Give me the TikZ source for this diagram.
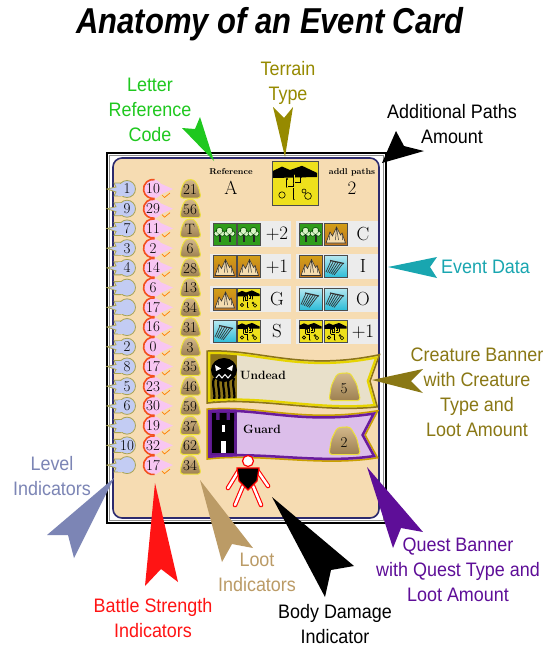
\documentclass[tikz,border=0pt]{standalone}
\usepackage{fontspec}
\newfontfamily\labfont{Liberation Sans}

\definecolor{cardbg}{HTML}{F6DCB2}
\definecolor{cardedge}{HTML}{2C2A6E}
\definecolor{levfill}{HTML}{C3CCF3}
\definecolor{levedge}{HTML}{A9A455}
\definecolor{batfill}{HTML}{F8C6F2}
\definecolor{batedge}{HTML}{F2501E}
\definecolor{rockfill}{HTML}{C4A064}
\definecolor{rockedge}{HTML}{EDE03A}
\definecolor{cellbg}{HTML}{ECECEC}
\definecolor{forestbg}{HTML}{2F9C1C}
\definecolor{treefill}{HTML}{D9F4C6}
\definecolor{mountbg}{HTML}{C07620}
\definecolor{peakfill}{HTML}{F5DDB0}
\definecolor{desertbg}{HTML}{EEE01C}
\definecolor{waterbg}{HTML}{2CBCD8}
\definecolor{banneryel}{HTML}{E6D400}
\definecolor{bannerolv}{HTML}{8C7418}
\definecolor{creaturebg}{HTML}{E8E0CA}
\definecolor{questbg}{HTML}{DCBEEA}
\definecolor{questedge}{HTML}{6A1C9C}
\definecolor{questpanel}{HTML}{5C1A8C}
\definecolor{gold}{HTML}{C9A000}
\definecolor{colref}{HTML}{1FC81F}
\definecolor{colterr}{HTML}{968A00}
\definecolor{colevent}{HTML}{19A6B0}
\definecolor{colcreat}{HTML}{8A7815}
\definecolor{colquest}{HTML}{5E0E98}
\definecolor{collevel}{HTML}{7C85B5}
\definecolor{colbattle}{HTML}{FF1414}
\definecolor{colloot}{HTML}{BB9B66}

\newcommand{\dart}[5]{\fill[#1] #2 -- #3 -- #4 -- #5 -- cycle;}

\tikzset{
	tileedge/.style={draw=black!70,line width=.7},
	forest/.pic={
		\draw[tileedge,fill=forestbg] (0,0) rectangle (23,22);
		\foreach \tx in {6.5,16.5}{
			\fill[black!85] (\tx-1,11) rectangle (\tx+1,19);
			\draw[green!30!black,line width=.6,fill=treefill] (\tx,7.5) circle (3.2) (\tx-2.8,10.5) circle (2.7) (\tx+2.8,10.5) circle (2.7);
			\fill[treefill] (\tx,8.5) circle (2.4);
		}
	},
	mountain/.pic={
		\draw[tileedge,top color=mountbg!70!yellow,bottom color=mountbg] (0,0) rectangle (23,22);
		\draw[black!80,line width=.6,fill=peakfill] (2,20) -- (6,9) -- (8.5,13) -- (12.5,4) -- (16.5,12) -- (18,10) -- (21.5,20) -- cycle;
		\draw[black!80,line width=.5] (6,9) -- (5.5,17) (12.5,4) -- (11.5,17) (12.5,4) -- (14.5,17) (18,10) -- (18.5,17);
	},
	desert/.pic={
		\draw[tileedge,fill=desertbg] (0,0) rectangle (23,22);
		\fill[black] (0.4,5) -- (5,2.8) -- (9,4.5) -- (15,2.4) -- (22.6,6) -- (22.6,8) -- (0.4,8.5) -- cycle;
		\draw[black,line width=2.4,line cap=round,line join=round] (11,19) -- (11,6) (11,13) -- (7.5,13) -- (7.5,9) (11,11) -- (14.5,11) -- (14.5,8);
		\draw[desertbg,line width=.9,line cap=round,line join=round] (11,19) -- (11,7) (11,13) -- (7.5,13) -- (7.5,9.5) (11,11) -- (14.5,11) -- (14.5,8.5);
		\draw[black,line width=.6] (5,17) circle (1.6) (18,17.5) circle (1.7) (16,15) circle (1);
	},
	water/.pic={
		\draw[tileedge,top color=waterbg!35!white,bottom color=waterbg] (0,0) rectangle (23,22);
		\draw[black!80,line width=1.2] (6,5) -- (20,8);
		\foreach \k in {0,...,5}
			\draw[black!80,line width=.7] (7+2.4*\k,5.3+0.5*\k) -- (2+1.6*\k,16.5+0.6*\k);
	},
	levgem/.pic={
		\draw[fill=levfill,draw=levedge,line width=.8] (-6,-6) -- (-13,-6) -- (-11,-2) -- (-20,0) -- (-11,3) -- (-13,7) -- (-6,7) -- cycle;
		\draw[fill=levfill,draw=levedge,line width=.8] (0,0) circle (8.5);
		\fill[levfill] (-9,-5.5) rectangle (-4,6.5);
	},
	batgem/.pic={
		\fill[batfill] (0,0) circle (9.5) (4,-7) -- (20,0) -- (4,7) -- cycle;
		\draw[batedge,line width=1.6] (80:9.5) arc[start angle=80,end angle=280,radius=9.5];
		\draw[orange,line width=.7] (9,6) -- (11.5,8.5) -- (17,4);
	},
	lootrock/.pic={
		\draw[rockedge,line width=1,top color=rockfill!75!white,bottom color=rockfill!80!black,rounded corners=3] (-10,9) -- (-8.5,-1) -- (-4.5,-9) -- (4,-9.5) -- (8.5,-2) -- (11,9) -- cycle;
	},
}

\begin{document}
\begin{tikzpicture}[x=1pt,y=-1pt,
	title/.style={font=\labfont\bfseries\itshape\fontsize{36}{36}\selectfont,xscale=.86,inner sep=0pt},
	lab/.style={font=\labfont\fontsize{19.5}{25}\selectfont,align=center,xscale=.92,inner sep=0pt},
	num/.style={font=\fontsize{15}{15}\selectfont,inner sep=0pt},
	hdr/.style={font=\bfseries\fontsize{8.5}{8.5}\selectfont,inner sep=0pt},
	big/.style={font=\fontsize{19}{19}\selectfont,inner sep=0pt},
	gridtxt/.style={font=\fontsize{19}{19}\selectfont,inner sep=0pt},
	bantxt/.style={font=\bfseries\fontsize{12}{12}\selectfont,inner sep=0pt},
	]
	\useasboundingbox (0,0) rectangle (545,648);
	\fill[white] (0,0) rectangle (545,648);

	\node[title] (title) at (270,24) {Anatomy of an Event Card};

	% card
	\draw[line width=1.4,fill=white] (107,153) rectangle (386,523);
	\draw[black!45,line width=.5] (109.5,155.5) rectangle (383.5,520.5);
	\draw[cardedge,fill=cardbg,line width=1.6,rounded corners=9] (113,158) rectangle (379,518);

	% header row
	\node[hdr] (refhdr) at (231,172) {Reference};
	\node[big] (refcode) at (231,188) {A};
	\pic[scale=2] at (272,161) {desert};
	\node[hdr] (pathhdr) at (352,172) {addl paths};
	\node[big] (pathnum) at (352,188) {2};

	% level / battle strength / loot columns
	\foreach \lv/\bs/\lt [count=\i] in {1/10/21,9/29/56,7/11/T,3/2/6,4/14/28,/6/13,/17/34,/16/31,2/0/3,8/17/35,5/23/46,6/30/59,/19/37,10/32/62,/17/34}{
		\pgfmathsetmacro\yy{189+(\i-1)*19.72}
		\pic at (127,\yy) {levgem};
		\node[num] (lv\i) at (127,\yy) {\lv};
		\pic at (153,\yy) {batgem};
		\node[num] (bs\i) at (153,\yy) {\bs};
		\pic at (190,\yy) {lootrock};
		\node[num] (lt\i) at (190,\yy+.5) {\lt};
	}

	% event data
	\foreach \ta/\tb/\la/\tc/\td/\lb [count=\r] in {forest/forest/+2/forest/mountain/C,mountain/mountain/+1/mountain/water/I,mountain/desert/G/water/water/O,water/desert/S/desert/desert/+1}{
		\pgfmathsetmacro\yy{234+(\r-1)*32.5}
		\fill[cellbg] (210,\yy-13) rectangle (291,\yy+12.5);
		\fill[cellbg] (296,\yy-13) rectangle (378,\yy+12.5);
		\pic at (213,\yy-11) {\ta};
		\pic at (237,\yy-11) {\tb};
		\node[gridtxt] (l\r) at (277,\yy) {\la};
		\pic at (299,\yy-11) {\tc};
		\pic at (324,\yy-11) {\td};
		\node[gridtxt] (r\r) at (363,\yy) {\lb};
	}

	% creature banner
	\def\creaturepath{(208,352) .. controls (260,350) and (300,372) .. (378,356) -- (369,381) -- (376,406) .. controls (320,412) and (260,396) .. (208,402) -- cycle}
	\draw[bannerolv,line width=3.5] \creaturepath;
	\fill[creaturebg] \creaturepath;
	\begin{scope}
		\clip \creaturepath;
		\fill[bannerolv] (205,345) rectangle (237,410);
		\fill[black] (224,370) ellipse [x radius=13,y radius=12];
		\foreach \dx in {-10,-5,0,5,10}
			\draw[black,line width=2.2] (224+\dx,378) .. controls (221+\dx,388) and (227+\dx,392) .. (223+\dx,404);
		\fill[white] (215,365) -- (221,368.5) -- (216,371) -- cycle;
		\fill[white] (233,365) -- (227,368.5) -- (232,371) -- cycle;
		\draw[white,line width=1] (216,378) -- (219,374.5) -- (222,378) -- (225,374.5) -- (228,378) -- (231,374.5);
		\draw[banneryel,line width=4.5] \creaturepath;
	\end{scope}
	\node[bantxt] (undead) at (263,375) {Undead};
	\pic[scale=1.5] at (344,387) {lootrock};
	\node[num] (cloot) at (344,389) {5};

	% quest banner
	\def\questpath{(208,410) .. controls (260,406) and (300,424) .. (376,412) -- (364,435) -- (376,457) .. controls (320,466) and (260,452) .. (208,458) -- cycle}
	\draw[gold,line width=3.5] \questpath;
	\fill[questbg] \questpath;
	\begin{scope}
		\clip \questpath;
		\fill[questpanel] (205,400) rectangle (237,465);
		\fill[black] (212,420) rectangle (234,453);
		\fill[black] (212,413) rectangle (216,421) (219.5,413) rectangle (226.5,421) (230,413) rectangle (234,421);
		\fill[white] (221.5,425) rectangle (224.5,432);
		\fill[white] (220.5,441) rectangle (225.5,453);
		\draw[questedge,line width=5] \questpath;
	\end{scope}
	\node[bantxt] (guard) at (262,429) {Guard};
	\pic[scale=1.5] at (344,441) {lootrock};
	\node[num] (qloot) at (344,443) {2};

	% body damage figure
	\draw[red,line width=4.6,line cap=round] (239,470) -- (228,488) (257,470) -- (268,486) (243,486) -- (235,505) (253,486) -- (261,505);
	\draw[white,line width=2.4,line cap=round] (239,470) -- (228,488) (257,470) -- (268,486) (243,486) -- (235,505) (253,486) -- (261,505);
	\draw[red,line width=1.2,fill=black] (237,468) -- (259,468) -- (257,481) -- (248,490) -- (239,481) -- cycle;
	\draw[red,line width=1.2,fill=white] (248,461) circle (5.5);

	% callout labels
	\node[lab,text=colref] (reflab) at (150,110) {Letter\\Reference\\Code};
	\node[lab,text=colterr] (terrlab) at (288,82.5) {Terrain\\Type};
	\node[lab,text=black] (pathlab) at (452,124.5) {Additional Paths\\Amount};
	\node[lab,text=colevent,anchor=west] (eventlab) at (441,267) {Event Data};
	\node[lab,text=colcreat] (creatlab) at (477,392.5) {Creature Banner\\with Creature\\Type and\\Loot Amount};
	\node[lab,text=colquest] (questlab) at (458,570) {Quest Banner\\with Quest Type and\\Loot Amount};
	\node[lab,text=collevel] (levlab) at (52,476) {Level\\Indicators};
	\node[lab,text=colbattle] (batlab) at (153,618) {Battle Strength\\Indicators};
	\node[lab,text=colloot] (lootlab) at (257,572.5) {Loot\\Indicators};
	\node[lab,text=black] (bodylab) at (335,624) {Body Damage\\Indicator};

	% callout darts
	\dart{colref}{(214,161)}{(200,117)}{(195,129)}{(182,128)}
	\dart{colterr}{(285,157)}{(293,107)}{(284,118)}{(273,107)}
	\dart{black}{(382,163)}{(396,131)}{(404,146)}{(424,151)}
	\dart{colevent}{(388,267)}{(437,257)}{(430,267)}{(437,278)}
	\dart{colcreat}{(372,380)}{(423,369)}{(411,381)}{(423,393)}
	\dart{collevel}{(114,478)}{(47,535)}{(68,535)}{(74,558)}
	\dart{colbattle}{(155,483)}{(145,586)}{(161,569)}{(178,582)}
	\dart{colloot}{(200,480)}{(222,562)}{(232,544)}{(253,548)}
	\dart{black}{(272,497)}{(325,597)}{(331,570)}{(354,566)}
	\dart{colquest}{(367,467)}{(393,548)}{(401,528)}{(423,532)}
\end{tikzpicture}
\end{document}
